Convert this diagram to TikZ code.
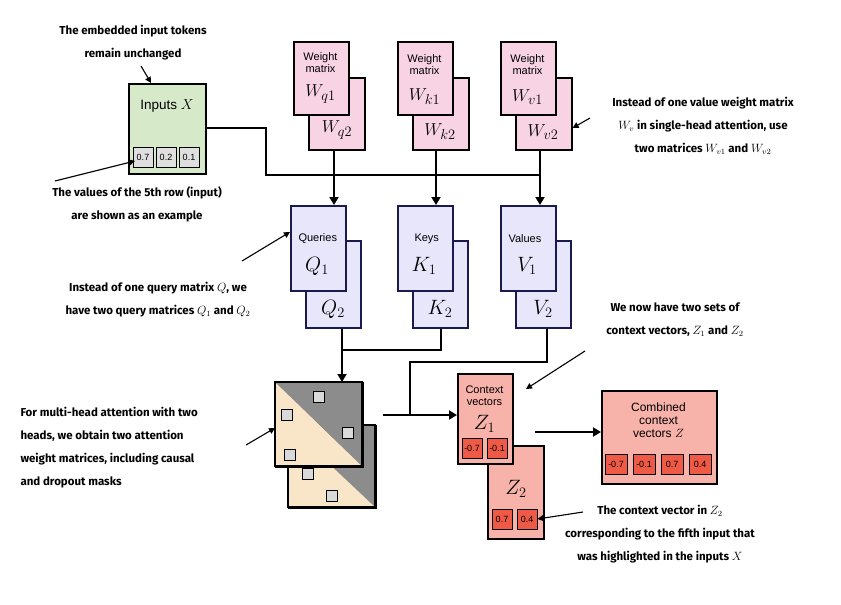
\documentclass[tikz,border=0pt]{standalone}
\usepackage{fontspec}
\setmainfont{Fira Sans}
\newfontfamily\boxf{Liberation Sans}
\usetikzlibrary{arrows.meta}
\definecolor{wpink}{HTML}{F8D3E4}
\definecolor{qlav}{HTML}{E8E6FA}
\definecolor{qbord}{HTML}{1A1A50}
\definecolor{ingreen}{HTML}{D6E9C9}
\definecolor{zpink}{HTML}{F7B2AA}
\definecolor{zred}{HTML}{EE5A45}
\definecolor{beige}{HTML}{F9E6C8}
\definecolor{dgray}{HTML}{8C8C8C}
\begin{document}
\begin{tikzpicture}[x=1pt,y=-1pt,
  box/.style={draw=black,line width=1.6pt,anchor=north west,inner sep=0pt},
  wbox/.style={box,fill=wpink},
  qbox/.style={box,fill=qlav,draw=qbord},
  zbox/.style={box,fill=zpink},
  cell/.style={draw=black,line width=1pt,minimum width=20pt,minimum height=20pt,inner sep=0pt,font=\boxf\fontsize{9}{9}\selectfont},
  gcell/.style={cell,fill=gray!25},
  rcell/.style={cell,fill=zred,minimum width=22pt},
  sq/.style={draw=black,line width=1pt,fill=gray!30,minimum size=11pt,inner sep=0pt},
  note/.style={font=\bfseries\fontsize{11.5}{23}\selectfont,align=center},
  lbl/.style={font=\boxf\fontsize{11}{12}\selectfont,align=center},
  mth/.style={font=\fontsize{19}{19}\selectfont},
  conn/.style={line width=1.8pt,-{Triangle[length=8pt,width=9pt]}},
  ln/.style={line width=1.8pt},
  ann/.style={line width=1.1pt,-{Triangle[length=6pt,width=6pt]}}]
\useasboundingbox (0,0) rectangle (841,605);
% Inputs
\node[box,fill=ingreen,minimum width=77pt,minimum height=90pt] (in) at (128,83) {};
\node[lbl,font=\boxf\fontsize{13.5}{14}\selectfont] (int) at (167,106) {Inputs $X$};
\node[gcell] (c1) at (143,157) {0.7};
\node[gcell] (c2) at (166,157) {0.2};
\node[gcell] (c3) at (189,157) {0.1};
% weight matrices
\foreach \n/\x/\s in {q/293/q,k/397/k,v/500/v}{
  \node[wbox,minimum width=56pt,minimum height=72pt] (w\n2) at (\x+15,77) {};
  \node[wbox,minimum width=55pt,minimum height=73pt] (w\n1) at (\x,41) {};
}
\node[lbl] at (320.5,63) {Weight\\matrix};
\node[mth] at (320.5,94) {$W_{q1}$};
\node[mth] at (337,130) {$W_{q2}$};
\node[lbl] at (424.5,65) {Weight\\matrix};
\node[mth] at (424.5,97) {$W_{k1}$};
\node[mth] at (440,132) {$W_{k2}$};
\node[lbl] at (527.5,65) {Weight\\matrix};
\node[mth] at (527.5,97) {$W_{v1}$};
\node[mth] at (543,132) {$W_{v2}$};
% Q K V
\foreach \n/\x in {q/290,k/397,v/500}{
  \node[qbox,minimum width=55pt,minimum height=87pt] (\n2) at (\x+15,240) {};
  \node[qbox,minimum width=55pt,minimum height=85pt] (\n1) at (\x,205) {};
}
\node[lbl,anchor=west] at (295,239) {Queries};
\node[mth,font=\fontsize{22}{22}\selectfont] at (317,266) {$Q_1$};
\node[mth,font=\fontsize{22}{22}\selectfont] at (333,309) {$Q_2$};
\node[lbl,anchor=west] at (411,239) {Keys};
\node[mth,font=\fontsize{22}{22}\selectfont] at (424,266) {$K_1$};
\node[mth,font=\fontsize{22}{22}\selectfont] at (440,309) {$K_2$};
\node[lbl,anchor=west] at (505,239) {Values};
\node[mth,font=\fontsize{22}{22}\selectfont] at (527,266) {$V_1$};
\node[mth,font=\fontsize{22}{22}\selectfont] at (543,309) {$V_2$};
% connectors top
\coordinate (j0) at (266,128);
\coordinate (j1) at (266,175);
\coordinate (j2) at (540,175);
\draw[ln] (in.east|-j0) -- (j0) -- (j1) -- (j2) -- (wv2.south-|j2);
\draw[conn] (wq2.south-|334,0) -- (q1.north-|334,0);
\draw[conn] (wk2.south-|436,0) -- (k1.north-|436,0);
\draw[conn] (wv2.south-|540,0) -- (v1.north-|540,0);
% attention
\node[box,minimum width=87pt,minimum height=82pt] (a2) at (288,425) {};
\fill[beige] (288,425) -- (375,507) -- (288,507) -- cycle;
\fill[dgray] (288,425) -- (375,425) -- (375,507) -- cycle;
\draw[line width=1.6pt] (288,425) rectangle (375,507);
\node[box,minimum width=87pt,minimum height=84pt] (a1) at (275,382) {};
\fill[beige] (275,382) -- (362,466) -- (275,466) -- cycle;
\fill[dgray] (275,382) -- (362,382) -- (362,466) -- cycle;
\draw[line width=1.6pt] (275,382) rectangle (362,466);
\node[sq] (s1) at (319,397) {};
\node[sq] (s2) at (287,415) {};
\node[sq] (s3) at (348,433) {};
\node[sq] (s4) at (290,455) {};
\node[sq] (s5) at (308,474) {};
\node[sq] (s6) at (332,496) {};
% QK to attention
\coordinate (k3) at (441,350);
\coordinate (q3) at (342,350);
\draw[ln] (k2.south-|k3) -- (k3) -- (q3);
\draw[conn] (q2.south-|q3) -- (a1.north-|q3);
% context
\node[zbox,minimum width=56pt,minimum height=93pt] (z2) at (487,445) {};
\node[zbox,minimum width=55pt,minimum height=90pt] (z1) at (457,373) {};
\node[lbl] at (484.5,396) {Context\\vectors};
\node[mth,font=\fontsize{22}{22}\selectfont] at (484.5,424) {$Z_1$};
\node[rcell,minimum width=20pt] (z11) at (472,448) {-0.7};
\node[rcell,minimum width=20pt] (z12) at (497,448) {-0.1};
\node[mth,font=\fontsize{22}{22}\selectfont] at (516,489) {$Z_2$};
\node[rcell,minimum width=20pt] (z21) at (502,519) {0.7};
\node[rcell,minimum width=20pt] (z22) at (527,519) {0.4};
\coordinate (v3) at (547,362);
\coordinate (v4) at (410,362);
\coordinate (m) at (410,415);
\draw[ln] (v2.south-|v3) -- (v3) -- (v4) -- (m);
\draw[conn] (383,415) -- (z1.west|-m);
% combined
\node[zbox,minimum width=115pt,minimum height=93pt] (zc) at (601,390) {};
\node[lbl,font=\boxf\fontsize{12}{13}\selectfont] at (658.5,420) {Combined\\context\\vectors $Z$};
\node[rcell] (zc1) at (616,464) {-0.7};
\node[rcell] (zc2) at (644,464) {-0.1};
\node[rcell] (zc3) at (672,464) {0.7};
\node[rcell] (zc4) at (700,464) {0.4};
\draw[conn] (535,432) -- (zc.west|-0,432);
% notes
\node[note] (n1) at (133,43) {The embedded input tokens\\remain unchanged};
\draw[ann] (141,66) -- (in.north-|151,0);
\node[note] (n2) at (137,204) {The values of the 5th row (input)\\are shown as an example};
\draw[ann] (55,181) -- (135,161);
\node[note] (n3) at (703,126) {Instead of one value weight matrix\\$W_v$ in single-head attention, use\\two matrices $W_{v1}$ and $W_{v2}$};
\draw[ann] (590,118) -- (wv2.east|-0,128);
\node[note] (n4) at (158,300) {Instead of one query matrix $Q$, we\\have two query matrices $Q_1$ and $Q_2$};
\draw[ann] (242,261) -- (q1.west|-0,232);
\node[note] (n5) at (675,320) {We now have two sets of\\context vectors, $Z_1$ and $Z_2$};
\draw[ann] (585,351) -- (526,389);
\node[note,align=left,anchor=west] (n6) at (17,448) {For multi-head attention with two\\heads, we obtain two attention\\weight matrices, including causal\\and dropout masks};
\draw[ann] (246,445) -- (a1.west|-0,428);
\node[note] (n7) at (660,534) {The context vector in $Z_2$\\corresponding to the fifth input that\\was highlighted in the inputs $X$};
\draw[ann] (583,512) -- (z22.east);
\end{tikzpicture}
\end{document}
